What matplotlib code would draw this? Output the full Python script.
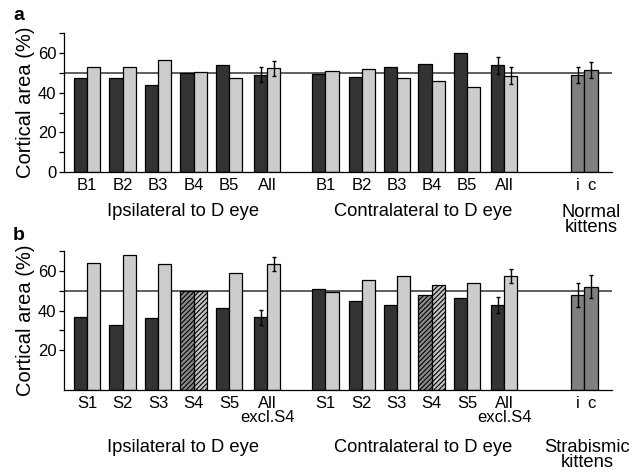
import numpy as np
import matplotlib
matplotlib.use("Agg")
import matplotlib.pyplot as plt

plt.rcParams["font.family"] = ["Liberation Sans", "DejaVu Sans"]
plt.rcParams["font.size"] = 12
plt.rcParams["hatch.linewidth"] = 0.8

# ---- data: panel a (binocular deprivation) ----
a_ipsi_labels = ["B1", "B2", "B3", "B4", "B5", "All"]
a_ipsi_dark = [47.4, 47.7, 43.7, 50.2, 53.8, 49.2]
a_ipsi_light = [53.1, 52.8, 56.6, 50.3, 47.7, 52.4]
a_contra_labels = ["B1", "B2", "B3", "B4", "B5", "All"]
a_contra_dark = [49.6, 48.2, 52.9, 54.6, 60.0, 53.9]
a_contra_light = [50.9, 52.1, 47.2, 45.7, 42.7, 48.6]
a_all_err = [3.7, 3.7, 4.4, 4.4]          # ipsi dark, ipsi light, contra dark, contra light
a_normal = [48.9, 51.4]
a_normal_err = [3.9, 4.0]

# ---- data: panel b (strabismus) ----
b_ipsi_labels = ["S1", "S2", "S3", "S4", "S5", "All\nexcl.S4"]
b_ipsi_dark = [36.6, 32.6, 36.3, 50.0, 41.5, 36.6]
b_ipsi_light = [63.9, 67.9, 63.7, 50.0, 58.7, 63.4]
b_contra_labels = ["S1", "S2", "S3", "S4", "S5", "All\nexcl.S4"]
b_contra_dark = [50.8, 44.7, 42.7, 47.6, 46.1, 42.7]
b_contra_light = [49.2, 55.5, 57.3, 53.1, 54.1, 57.3]
b_all_err = [3.7, 3.7, 3.9, 3.5]
b_strab = [47.9, 52.1]
b_strab_err = [6.0, 6.0]

ctrl_labels = ["i", "c"]
hatched_idx = 3  # S4 drawn hatched in panel b

# layout (group centres, in group-spacing units)
ipsi_x = np.array([0, 1, 2, 3, 4, 5.07]) + 0.37
contra_x = np.array([6.71, 7.73, 8.72, 9.70, 10.70, 11.74]) + 0.37
kitten_x = 14.0 + 0.37
w = 0.37

DARK = "#333333"
LIGHT = "#cccccc"
MID = "#808080"


def draw_panel(ax, ipsi_d, ipsi_l, con_d, con_l, all_err, ctrl, ctrl_err,
               ipsi_lab, con_lab, hatch_at=None, show_zero=True):
    for xs, d, l in ((ipsi_x, ipsi_d, ipsi_l), (contra_x, con_d, con_l)):
        for i in range(len(xs)):
            if i == hatch_at:
                ax.bar(xs[i] - w / 2, d[i], w, color="#8c8c8c", edgecolor="black",
                       linewidth=0.9, hatch="///////")
                ax.bar(xs[i] + w / 2, l[i], w, color="#c4c4c4", edgecolor="black",
                       linewidth=0.9, hatch="///////")
            else:
                ax.bar(xs[i] - w / 2, d[i], w, color=DARK, edgecolor="black", linewidth=0.9)
                ax.bar(xs[i] + w / 2, l[i], w, color=LIGHT, edgecolor="black", linewidth=0.9)
    # error bars on the pooled groups
    ex = [ipsi_x[-1] - w / 2, ipsi_x[-1] + w / 2, contra_x[-1] - w / 2, contra_x[-1] + w / 2]
    ey = [ipsi_d[-1], ipsi_l[-1], con_d[-1], con_l[-1]]
    ax.errorbar(ex, ey, yerr=all_err, fmt="none", ecolor="black", elinewidth=1, capsize=1.2)
    # control kittens
    cx = [kitten_x - w / 2, kitten_x + w / 2]
    ax.bar(cx, ctrl, w, color=MID, edgecolor="black", linewidth=0.9)
    ax.errorbar(cx, ctrl, yerr=ctrl_err, fmt="none", ecolor="black", elinewidth=1, capsize=1.2)

    ax.axhline(50, color="#333333", linewidth=1.1, zorder=0.5)

    ax.set_xlim(-0.28, 15.15)
    ax.set_ylim(0, 70)
    ax.spines["top"].set_visible(False)
    ax.spines["right"].set_visible(False)
    ax.spines["left"].set_linewidth(0.9)
    ax.spines["bottom"].set_linewidth(0.9)

    if show_zero:
        ax.set_yticks(range(0, 71, 10))
        ax.set_yticklabels(["0", "", "20", "", "40", "", "60", ""])
    else:
        ax.set_yticks(range(20, 71, 10))
        ax.set_yticklabels(["20", "", "40", "", "60", ""])
    ax.tick_params(axis="y", length=3.5, width=0.9, pad=2)

    ticks = list(ipsi_x) + list(contra_x) + cx
    labels = list(ipsi_lab) + list(con_lab) + ctrl_labels
    ax.set_xticks(ticks)
    ax.set_xticklabels(labels, linespacing=0.95, va="top")
    ax.tick_params(axis="x", length=0, pad=4)
    ax.set_ylabel("Cortical area (%)", fontsize=14.5, labelpad=2)


fig = plt.figure(figsize=(6.33, 4.72), dpi=100)
ax_a = fig.add_axes([0.101, 0.6356, 0.866, 0.2938])
ax_b = fig.add_axes([0.101, 0.1737, 0.866, 0.2945])

draw_panel(ax_a, a_ipsi_dark, a_ipsi_light, a_contra_dark, a_contra_light, a_all_err,
           a_normal, a_normal_err, a_ipsi_labels, a_contra_labels)
draw_panel(ax_b, b_ipsi_dark, b_ipsi_light, b_contra_dark, b_contra_light, b_all_err,
           b_strab, b_strab_err, b_ipsi_labels, b_contra_labels,
           hatch_at=hatched_idx, show_zero=False)

# group captions
cap = 13.2
fig.text(183 / 633, 1 - 212 / 472, "Ipsilateral to D eye", ha="center", va="center", fontsize=cap)
fig.text(423 / 633, 1 - 212 / 472, "Contralateral to D eye", ha="center", va="center", fontsize=cap)
fig.text(591 / 633, 1 - 220 / 472, "Normal\nkittens", ha="center", va="center",
         linespacing=0.9, fontsize=cap)
fig.text(183 / 633, 1 - 447 / 472, "Ipsilateral to D eye", ha="center", va="center", fontsize=cap)
fig.text(423 / 633, 1 - 447 / 472, "Contralateral to D eye", ha="center", va="center", fontsize=cap)
fig.text(587 / 633, 1 - 455 / 472, "Strabismic\nkittens", ha="center", va="center",
         linespacing=0.9, fontsize=cap)

fig.text(13 / 633, 1 - 16 / 472, "a", fontsize=14, fontweight="bold", ha="left", va="center")
fig.text(13 / 633, 1 - 236 / 472, "b", fontsize=14, fontweight="bold", ha="left", va="center")

fig.savefig("out.png", dpi=100)
